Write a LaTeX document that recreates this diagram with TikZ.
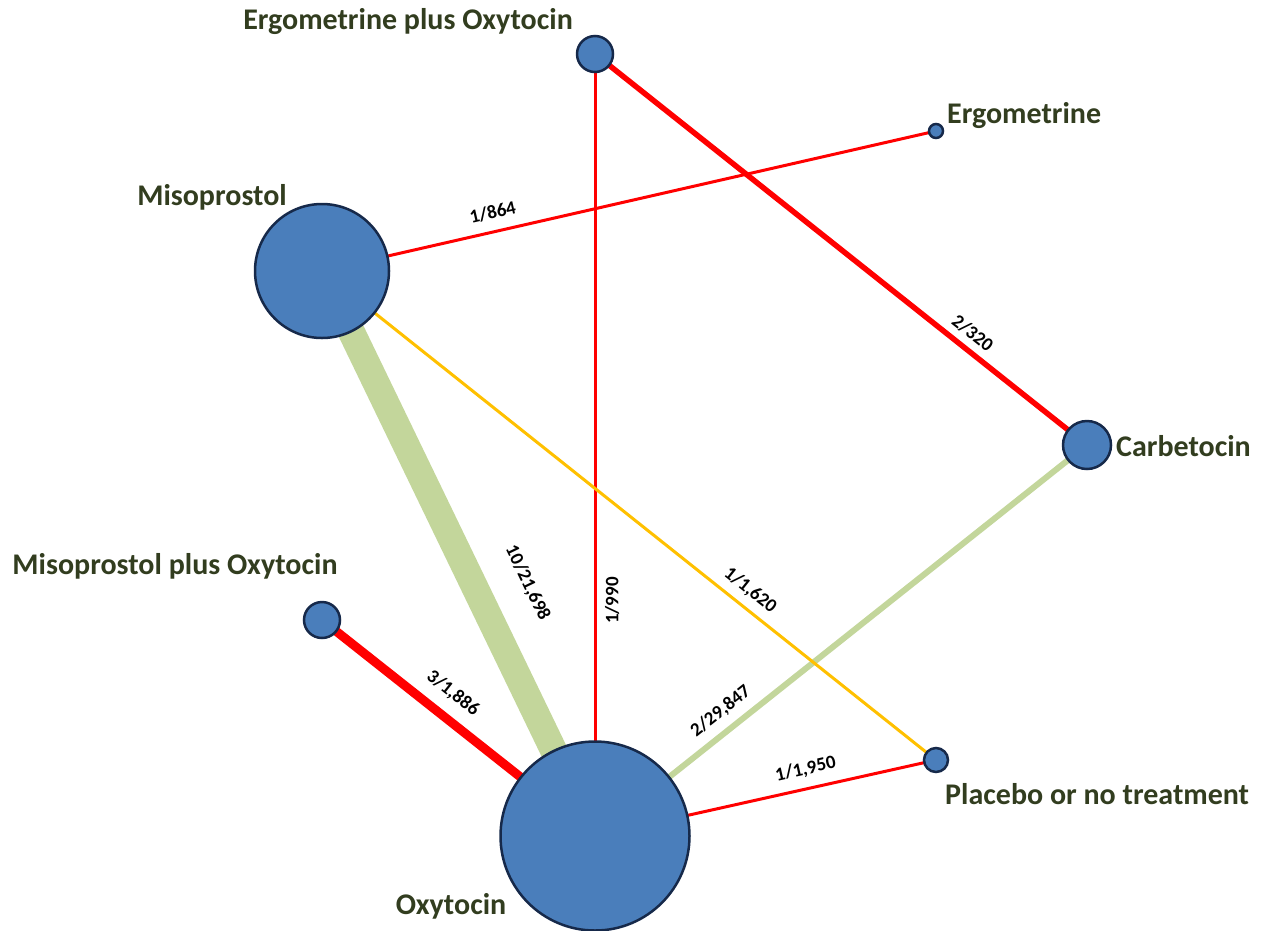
\documentclass[tikz,border=0pt]{standalone}
\usepackage{fontspec}
\setmainfont{Carlito}
\usetikzlibrary{backgrounds}
\definecolor{nodefill}{HTML}{4A7EBB}
\definecolor{nodeline}{HTML}{16294A}
\definecolor{lbl}{HTML}{323D1F}
\definecolor{egreen}{HTML}{C3D69B}
\definecolor{ered}{HTML}{FF0000}
\definecolor{eorange}{HTML}{FFC000}
\begin{document}
\begin{tikzpicture}[x=1pt,y=-1pt,
  trt/.style={circle,fill=nodefill,draw=nodeline,line width=2.5pt,inner sep=0pt,outer sep=0pt,minimum size=#1},
  tname/.style={font=\bfseries\fontsize{30}{30}\selectfont,text=lbl,inner sep=0pt},
  elab/.style={font=\bfseries\fontsize{19}{19}\selectfont,sloped,above=#1,inner sep=0pt,text=black},
  elabb/.style={font=\bfseries\fontsize{19}{19}\selectfont,sloped,allow upside down,below=#1,inner sep=0pt,text=black},
  thinred/.style={draw=ered,line width=3pt},
  thinorange/.style={draw=eorange,line width=3pt}]
\useasboundingbox (0,0) rectangle (1265,930);
% treatment nodes
\node[trt=36pt]  (EPO) at (595,54)  {};
\node[trt=14pt]  (ERG) at (936,131) {};
\node[trt=134pt] (MIS) at (322,271) {};
\node[trt=48pt]  (CAR) at (1087,445) {};
\node[trt=36pt]  (MPO) at (322,620) {};
\node[trt=189pt] (OXY) at (595,836) {};
\node[trt=24pt]  (PLA) at (936,760) {};
% names
\node[tname,anchor=east] (tEPO) at (573,22) {Ergometrine plus Oxytocin};
\node[tname,anchor=west] (tERG) at (947,116) {Ergometrine};
\node[tname] (tMIS) at (212,197) {Misoprostol};
\node[tname,anchor=west] (tCAR) at (1116,446) {Carbetocin};
\node[tname] (tMPO) at (175,566) {Misoprostol plus Oxytocin};
\node[tname] (tOXY) at (451,906) {Oxytocin};
\node[tname,anchor=west] (tPLA) at (945,794) {Placebo or no treatment};
% edges
\begin{scope}[on background layer]
\draw[draw=egreen,line width=27pt] (MIS.center) -- node[elab=28pt,pos=0.59] {10/21,698} (OXY.center);
\draw[draw=egreen,line width=6pt] (OXY.center) -- node[elab=8.5pt,pos=0.28] {2/29,847} (CAR.center);
\draw[draw=ered,line width=9pt] (MPO.center) -- node[elab=11.5pt,pos=0.425] {3/1,886} (OXY.center);
\draw[draw=ered,line width=5.5pt] (EPO.center) -- node[elab=6.5pt,pos=0.747] {2/320} (CAR.center);
\draw[thinred] (OXY.center) -- node[elabb=8.5pt,pos=0.301] {1/990} (EPO.center);
\draw[thinred] (MIS.center) -- node[elab=11pt,pos=0.285] {1/864} (ERG.center);
\draw[thinred] (OXY.center) -- node[elab=10pt,pos=0.63] {1/1,950} (PLA.center);
\draw[thinorange] (MIS.center) -- node[elab=8pt,pos=0.68] {1/1,620} (PLA.center);
\end{scope}
\end{tikzpicture}
\end{document}
